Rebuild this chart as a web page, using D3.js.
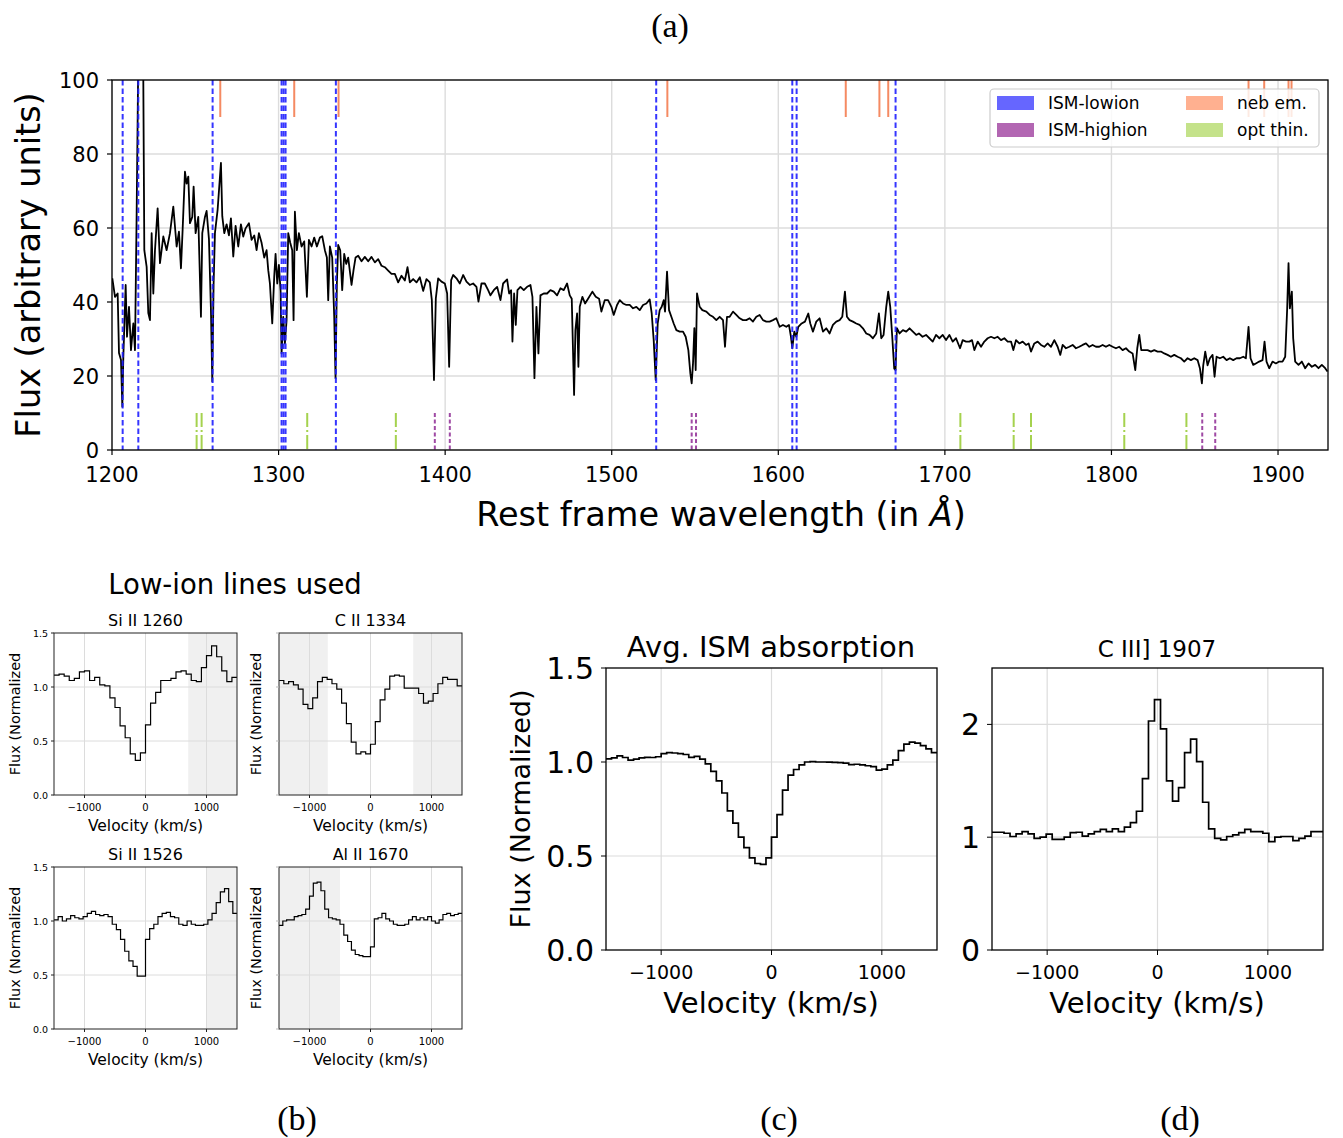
<!DOCTYPE html>
<html><head><meta charset="utf-8">
<script src="https://cdn.jsdelivr.net/npm/d3@7"></script>
<style>body{margin:0;background:#fff}svg{display:block}</style>
</head><body><script>
// ---------------- DATA ----------------
const specWave = [1200.2,1201.8,1203.4,1204.2,1205.4,1206.2,1206.8,1208.2,1209.0,1210.2,1211.4,1212.8,1213.8,1214.8,1216.0,1218.6,1219.4,1220.8,1221.8,1222.8,1223.8,1224.8,1225.8,1227.4,1228.8,1230.8,1232.8,1234.8,1236.8,1238.8,1240.2,1241.4,1242.4,1243.8,1244.8,1245.8,1246.8,1248.2,1249.0,1250.2,1251.8,1253.4,1254.2,1255.8,1256.8,1258.2,1259.4,1260.2,1261.0,1261.8,1263.4,1265.4,1266.2,1267.4,1268.8,1270.2,1271.4,1272.8,1274.2,1275.8,1277.4,1278.8,1280.2,1282.2,1283.8,1285.4,1286.8,1288.2,1289.8,1291.4,1292.8,1293.8,1294.8,1296.2,1297.4,1298.2,1299.2,1300.2,1301.2,1301.8,1302.8,1303.8,1304.8,1305.8,1307.0,1308.2,1309.0,1309.8,1311.0,1312.2,1313.8,1315.4,1317.0,1318.2,1319.8,1321.4,1323.0,1324.8,1326.2,1327.8,1329.0,1329.8,1330.8,1332.2,1333.4,1334.2,1335.0,1335.8,1337.0,1338.2,1339.4,1340.6,1341.8,1343.8,1345.0,1346.2,1347.8,1349.8,1351.8,1353.8,1355.8,1357.8,1359.8,1361.8,1363.8,1365.8,1367.8,1369.8,1371.8,1373.8,1375.8,1377.4,1378.8,1380.8,1382.8,1384.8,1386.8,1388.8,1390.8,1392.0,1393.3,1394.4,1395.8,1397.8,1399.8,1401.2,1402.4,1403.6,1404.8,1406.8,1408.8,1410.8,1412.8,1414.8,1416.8,1418.8,1420.0,1421.8,1423.8,1425.8,1427.2,1429.2,1431.2,1433.2,1434.8,1437.2,1438.4,1439.6,1440.4,1441.4,1442.4,1443.4,1445.2,1447.2,1449.2,1451.2,1452.4,1453.6,1454.8,1456.0,1457.2,1459.2,1461.2,1463.2,1465.2,1467.2,1469.2,1471.2,1473.2,1474.8,1476.0,1476.8,1477.4,1478.2,1479.2,1480.0,1480.8,1482.4,1484.0,1485.8,1488.4,1490.4,1492.4,1493.8,1495.8,1497.8,1499.8,1501.2,1503.2,1504.8,1506.8,1508.8,1510.8,1512.8,1514.8,1516.8,1518.8,1520.8,1522.8,1524.0,1525.2,1526.4,1527.6,1528.8,1530.0,1531.2,1532.0,1533.2,1534.4,1535.8,1537.2,1538.8,1540.8,1542.8,1544.4,1546.0,1547.2,1548.0,1548.8,1549.6,1550.4,1551.2,1552.8,1554.4,1556.8,1558.8,1560.8,1562.8,1564.8,1566.8,1568.0,1569.2,1570.8,1572.8,1574.8,1576.8,1578.8,1580.8,1582.8,1584.8,1586.8,1588.8,1590.8,1592.8,1594.8,1596.8,1598.8,1600.8,1602.8,1604.8,1606.4,1607.6,1608.4,1609.6,1610.8,1612.0,1614.0,1616.0,1618.0,1619.2,1620.8,1622.8,1624.8,1626.8,1628.8,1630.8,1632.8,1634.8,1636.8,1638.4,1640.0,1641.2,1642.8,1644.8,1646.8,1648.8,1650.8,1652.8,1654.8,1656.8,1658.8,1660.4,1661.8,1663.2,1664.8,1666.0,1667.2,1668.4,1669.6,1670.4,1671.2,1672.8,1674.8,1676.8,1678.8,1680.8,1682.8,1684.4,1686.6,1688.7,1690.7,1692.7,1694.7,1696.7,1698.7,1700.7,1702.7,1704.7,1706.7,1709.1,1710.7,1712.7,1714.7,1716.3,1717.7,1719.7,1721.7,1723.7,1725.7,1727.7,1729.7,1731.7,1733.7,1735.7,1737.7,1739.7,1741.1,1742.7,1744.7,1746.7,1748.7,1750.3,1751.7,1753.7,1755.7,1757.7,1759.7,1761.7,1763.7,1765.7,1767.7,1769.3,1770.7,1772.7,1774.7,1776.7,1778.7,1780.7,1782.7,1784.7,1786.7,1788.7,1790.7,1792.7,1794.7,1796.7,1798.7,1800.7,1802.7,1804.7,1806.7,1808.7,1810.7,1812.7,1814.3,1815.5,1816.7,1817.9,1819.7,1821.7,1823.7,1825.7,1827.7,1829.7,1831.7,1833.7,1835.7,1837.7,1839.7,1841.7,1843.7,1845.7,1847.7,1849.7,1851.7,1853.1,1854.3,1855.1,1856.3,1857.7,1859.1,1860.7,1861.9,1863.1,1865.1,1867.1,1869.1,1871.1,1873.1,1875.1,1877.1,1879.1,1880.7,1882.3,1883.5,1885.1,1886.7,1888.7,1890.7,1891.9,1893.1,1894.7,1896.7,1898.7,1900.7,1902.7,1904.3,1905.5,1906.3,1907.1,1908.3,1909.1,1910.3,1912.3,1914.3,1916.3,1918.3,1920.3,1922.3,1924.3,1926.3,1928.3,1929.7];
const specFlux = [46.4,41.4,42.3,26.2,24.3,11.7,25.2,44.6,30.6,38.7,27.0,34.2,27.0,64.0,115,115,54.0,49.5,37.0,35.1,58.6,42.3,54.0,65.3,50.5,57.7,54.0,58.6,65.8,55.0,59.0,49.1,59.5,75.2,72.0,73.9,61.3,63.0,71.2,58.6,63.0,36.0,58.6,63.0,64.6,57.0,37.8,18.5,45.0,58.6,64.9,77.6,63.2,58.6,61.0,58.0,62.6,52.3,60.6,55.0,61.0,57.7,59.9,61.3,56.8,58.0,54.0,58.6,56.0,52.0,54.0,48.6,45.0,34.2,47.0,53.0,45.0,50.0,43.0,26.1,36.0,28.8,35.0,58.6,56.0,54.0,35.1,64.4,54.0,58.6,55.0,56.4,41.4,56.8,55.0,57.4,55.0,57.4,57.8,54.0,52.0,40.5,55.0,52.0,36.0,19.4,45.0,55.4,54.0,43.2,53.0,50.3,52.0,44.6,48.6,52.0,52.5,51.0,52.2,51.0,52.2,50.7,51.6,49.8,49.4,48.5,47.6,47.6,45.3,47.1,45.8,49.4,45.3,46.2,45.3,46.7,43.0,46.2,45.3,40.5,18.9,41.0,46.4,45.5,45.0,42.3,22.5,45.9,47.3,46.4,45.0,47.3,45.5,44.6,45.0,44.1,40.1,45.0,45.0,43.2,41.8,43.2,44.1,40.5,45.0,46.1,42.3,43.2,29.3,42.3,33.8,43.2,44.1,43.2,44.1,44.6,41.4,19.4,38.7,26.1,41.8,42.3,42.3,43.2,42.8,41.8,43.7,43.2,45.0,41.8,40.9,26.1,14.9,32.4,36.9,22.5,38.7,41.4,39.6,40.9,42.8,41.4,40.9,37.4,40.5,40.5,38.7,36.5,39.2,40.5,39.6,39.2,39.2,38.3,38.7,37.8,39.2,39.6,40.7,36.9,29.7,18.9,34.2,37.8,38.7,40.5,37.4,48.2,37.8,36.0,34.2,32.4,32.0,32.0,30.6,27.0,20.7,18.0,23.4,32.9,21.6,42.3,38.7,37.8,37.4,36.5,36.0,35.1,36.0,35.1,27.9,36.0,36.0,37.4,36.5,35.6,35.1,35.1,35.6,34.7,36.0,36.5,35.1,34.7,34.7,35.1,35.6,33.3,33.8,33.3,33.8,30.6,27.5,32.0,30.6,33.3,34.2,34.7,36.9,34.2,32.0,34.7,35.6,32.0,32.9,31.5,33.8,34.7,35.1,36.0,42.8,36.0,35.1,34.7,34.2,33.8,32.9,31.5,31.1,30.2,31.5,36.9,30.2,31.1,38.7,42.8,38.7,30.6,22.0,21.6,32.9,31.5,32.4,32.0,32.9,32.0,31.1,31.5,30.6,31.1,30.2,29.3,31.1,30.2,31.1,29.7,31.1,29.3,30.2,27.5,29.7,29.3,29.3,29.7,27.0,29.3,27.9,29.3,30.2,30.6,30.2,30.6,29.7,30.2,29.3,29.3,27.0,29.7,28.8,29.3,28.4,28.8,26.6,28.8,29.3,28.4,27.9,28.8,27.9,29.7,27.9,25.7,28.4,27.5,27.9,28.4,27.5,27.9,28.4,28.8,27.9,28.4,27.9,27.9,28.4,27.9,28.4,27.9,27.5,27.9,27.0,27.5,26.6,26.1,21.6,27.5,31.1,27.0,27.0,27.0,26.6,27.0,26.6,26.6,26.1,25.7,25.2,25.7,25.2,24.8,23.9,24.8,24.3,24.8,24.3,22.1,18.0,22.9,26.6,22.9,24.8,25.7,19.8,25.2,24.8,25.2,24.3,24.8,24.3,24.8,24.8,25.2,24.8,33.3,24.8,23.0,23.4,23.9,24.3,29.3,23.9,22.1,23.9,23.4,23.9,23.9,25.2,38.3,50.5,38.3,42.8,30.2,23.9,23.0,23.9,22.1,23.4,22.5,23.0,22.1,23.0,22.1,21.2];
const xTicksMain = [1200,1300,1400,1500,1600,1700,1800,1900];
const yTicksMain = [0,20,40,60,80,100];
// line markers (rest wavelengths, Å)
const ismLowion = [1206.4,1215.8,1260.4,1301.8,1303.0,1304.2,1334.4,1526.7,1608.4,1611.0,1670.4];
const nebEm = [1265.0,1309.4,1336.0,1533.4,1640.5,1660.7,1666.0,1882.3,1891.7,1906.3,1908.1];
const ismHighion = [1393.8,1402.8,1548.0,1550.6,1854.5,1862.3];
const optThin = [1250.8,1253.8,1317.2,1370.4,1709.3,1741.3,1751.7,1807.7,1845.0];
const legendLabels = ["ISM-lowion","ISM-highion","neb em.","opt thin."];
// panel (b): binned normalized flux, velocity range -1500..1500 km/s
const siII1260 = [1.11,1.12,1.10,1.06,1.08,1.14,1.15,1.06,1.09,1.02,1.01,0.90,0.81,0.64,0.53,0.38,0.32,0.39,0.65,0.85,0.95,1.06,1.06,1.08,1.14,1.15,1.12,1.06,1.05,1.18,1.29,1.38,1.28,1.15,1.05,1.09];
const cII1334 = [1.06,1.03,1.05,1.02,0.98,0.84,0.80,0.90,1.05,1.09,1.07,1.03,0.98,0.85,0.66,0.49,0.38,0.40,0.38,0.47,0.68,0.88,0.98,1.10,1.11,1.10,0.99,0.99,0.99,0.94,0.85,0.87,0.94,1.03,1.09,1.07,1.07,1.01];
const siII1526 = [1.01,1.04,1.00,1.02,1.05,1.03,1.02,1.04,1.07,1.09,1.06,1.05,1.06,1.04,0.97,0.92,0.83,0.72,0.63,0.58,0.49,0.49,0.83,0.93,0.97,1.04,1.07,1.08,1.04,1.03,0.97,0.96,1.00,0.97,0.96,0.96,0.97,1.01,1.07,1.17,1.27,1.30,1.18,1.07];
const alII1670 = [0.96,1.00,1.01,1.01,1.04,1.05,1.06,1.11,1.23,1.35,1.36,1.28,1.11,1.03,1.02,1.01,0.97,0.87,0.81,0.73,0.69,0.68,0.67,0.67,0.76,1.02,1.03,1.07,1.02,1.00,0.97,0.96,0.96,0.97,1.01,1.04,1.01,1.03,1.01,1.04,1.00,0.98,1.01,1.06,1.07,1.05,1.06,1.07];
const shade1260 = [[700,1500]];
const shade1334 = [[-1500,-700],[700,1500]];
const shade1526 = [[1000,1500]];
const shade1670 = [[-1500,-500]];
const lowIonTitles = ["Si II 1260","C II 1334","Si II 1526","Al II 1670"];
// panel (c): average ISM absorption, 50 km/s bins
const avgISM = [1.017,1.022,1.033,1.024,1.010,1.015,1.022,1.025,1.024,1.028,1.045,1.050,1.048,1.045,1.040,1.025,1.030,1.015,0.990,0.950,0.900,0.835,0.740,0.675,0.600,0.545,0.490,0.460,0.455,0.490,0.600,0.720,0.850,0.930,0.960,0.985,1.000,1.002,1.000,1.000,0.999,0.998,0.997,0.994,0.986,0.988,0.985,0.980,0.975,0.957,0.962,0.985,1.010,1.060,1.095,1.106,1.100,1.087,1.070,1.050];
// panel (d): C III] 1907 profile
const ciii1907 = [1.044,1.044,1.035,1.006,1.030,1.050,1.030,0.990,1.000,1.027,0.980,0.980,1.000,1.040,1.044,1.010,1.030,1.050,1.070,1.050,1.074,1.050,1.090,1.130,1.230,1.520,2.030,2.220,1.960,1.500,1.320,1.440,1.750,1.870,1.670,1.310,1.074,0.990,0.976,1.006,1.020,1.040,1.070,1.050,1.050,1.035,0.960,1.000,1.006,1.006,0.970,0.990,1.010,1.050,1.050];
const velTicks = [-1000,0,1000];

// ---------------- DRAW ----------------
const FONT = "DejaVu Sans, sans-serif";
const SERIF = "Liberation Serif, DejaVu Serif, serif";
const GRID = "#dcdcdc";
const svg = d3.select("body").append("svg").attr("width",1343).attr("height",1138)
  .style("font-family",FONT);
svg.append("rect").attr("width",1343).attr("height",1138).attr("fill","#fff");
const fmtMinus = s => String(s).replace("-","\u2212");

// ---- panel (a) ----
const xA = d3.scaleLinear().domain([1200,1930]).range([112,1328]);
const yA = d3.scaleLinear().domain([0,100]).range([450,80]);
const gA = svg.append("g");
svg.append("defs").append("clipPath").attr("id","clipA").append("rect")
  .attr("x",112).attr("y",80).attr("width",1216).attr("height",370);
gA.selectAll(".gx").data(xTicksMain).join("line").attr("x1",d=>xA(d)).attr("x2",d=>xA(d))
  .attr("y1",80).attr("y2",450).attr("stroke",GRID).attr("stroke-width",1.4);
gA.selectAll(".gy").data(yTicksMain).join("line").attr("x1",112).attr("x2",1328)
  .attr("y1",d=>yA(d)).attr("y2",d=>yA(d)).attr("stroke",GRID).attr("stroke-width",1.4);
const spec = specWave.map((w,i)=>[w,specFlux[i]]);
gA.append("path").datum(spec).attr("clip-path","url(#clipA)")
  .attr("d",d3.line().x(d=>xA(d[0])).y(d=>yA(d[1])))
  .attr("fill","none").attr("stroke","#000").attr("stroke-width",1.8).attr("stroke-linejoin","round");
const gL = gA.append("g").attr("clip-path","url(#clipA)");
gL.selectAll(".low").data(ismLowion).join("line").attr("x1",d=>xA(d)).attr("x2",d=>xA(d))
  .attr("y1",yA(100)).attr("y2",yA(0)).attr("stroke","#1f1fff").attr("stroke-opacity",0.9)
  .attr("stroke-width",2).attr("stroke-dasharray","5.5,3");
gL.selectAll(".neb").data(nebEm).join("line").attr("x1",d=>xA(d)).attr("x2",d=>xA(d))
  .attr("y1",yA(100)).attr("y2",yA(90)).attr("stroke","#f58a62").attr("stroke-width",2);
gL.selectAll(".hi").data(ismHighion).join("line").attr("x1",d=>xA(d)).attr("x2",d=>xA(d))
  .attr("y1",yA(10)).attr("y2",yA(0)).attr("stroke","#8e2a94").attr("stroke-opacity",0.85)
  .attr("stroke-width",2).attr("stroke-dasharray","4,2.5");
gL.selectAll(".thin").data(optThin).join("line").attr("x1",d=>xA(d)).attr("x2",d=>xA(d))
  .attr("y1",yA(10)).attr("y2",yA(0)).attr("stroke","#a5d24e").attr("stroke-width",2)
  .attr("stroke-dasharray","14,3,2,3");
gA.append("rect").attr("x",112).attr("y",80).attr("width",1216).attr("height",370)
  .attr("fill","none").attr("stroke","#000").attr("stroke-width",1.3);
gA.selectAll(".tx").data(xTicksMain).join("line").attr("x1",d=>xA(d)).attr("x2",d=>xA(d))
  .attr("y1",450).attr("y2",455).attr("stroke","#000").attr("stroke-width",1.2);
gA.selectAll(".tl").data(xTicksMain).join("text").attr("x",d=>xA(d)).attr("y",482)
  .attr("text-anchor","middle").attr("font-size",21).text(d=>d);
gA.selectAll(".ty").data(yTicksMain).join("line").attr("x1",107).attr("x2",112)
  .attr("y1",d=>yA(d)).attr("y2",d=>yA(d)).attr("stroke","#000").attr("stroke-width",1.2);
gA.selectAll(".tyl").data(yTicksMain).join("text").attr("x",99).attr("y",d=>yA(d)+7.5)
  .attr("text-anchor","end").attr("font-size",21).text(d=>d);
gA.append("text").attr("transform","translate(40,265) rotate(-90)").attr("text-anchor","middle")
  .attr("font-size",33.5).text("Flux (arbitrary units)");
const xl = gA.append("text").attr("x",721).attr("y",526).attr("text-anchor","middle").attr("font-size",33.5);
xl.append("tspan").text("Rest frame wavelength (in ");
xl.append("tspan").attr("font-style","italic").text("Å");
xl.append("tspan").text(")");
// legend
const leg = gA.append("g");
leg.append("rect").attr("x",990).attr("y",89).attr("width",329).attr("height",58).attr("rx",4)
  .attr("fill","#fff").attr("fill-opacity",0.82).attr("stroke","#cccccc").attr("stroke-width",1.2);
const legColors = ["#6666ff","#b266b2","#ffb090","#c4e28a"];
const legPos = [[997,96],[997,123],[1186,96],[1186,123]];
legendLabels.forEach((t,i)=>{
  leg.append("rect").attr("x",legPos[i][0]).attr("y",legPos[i][1]).attr("width",37).attr("height",14)
    .attr("fill",legColors[i]);
  leg.append("text").attr("x",legPos[i][0]+51).attr("y",legPos[i][1]+13).attr("font-size",17).text(t);
});
svg.append("text").attr("x",670).attr("y",37).attr("text-anchor","middle")
  .attr("font-family",SERIF).attr("font-size",34).text("(a)");

// ---- panel (b) ----
function stepPts(vals){
  const w = 3000/vals.length;
  const pts=[];
  vals.forEach((v,i)=>{pts.push([-1500+i*w,v]);pts.push([-1500+(i+1)*w,v]);});
  return pts;
}
svg.append("text").attr("x",235).attr("y",594).attr("text-anchor","middle").attr("font-size",27.5)
  .text("Low-ion lines used");
const smallPanels = [
  {vals:siII1260, shade:shade1260, x0:54, y0:633, labels:true},
  {vals:cII1334, shade:shade1334, x0:279, y0:633, labels:false},
  {vals:siII1526, shade:shade1526, x0:54, y0:867, labels:true},
  {vals:alII1670, shade:shade1670, x0:279, y0:867, labels:false}
];
smallPanels.forEach((p,k)=>{
  const w=183, h=162;
  const x = d3.scaleLinear().domain([-1500,1500]).range([p.x0,p.x0+w]);
  const y = d3.scaleLinear().domain([0,1.5]).range([p.y0+h,p.y0]);
  const g = svg.append("g");
  g.selectAll(".sh").data(p.shade).join("rect").attr("x",d=>x(d[0])).attr("width",d=>x(d[1])-x(d[0]))
    .attr("y",p.y0).attr("height",h).attr("fill","#f0f0f0");
  g.selectAll(".gx").data(velTicks).join("line").attr("x1",d=>x(d)).attr("x2",d=>x(d))
    .attr("y1",p.y0).attr("y2",p.y0+h).attr("stroke",GRID).attr("stroke-width",1);
  g.selectAll(".gy").data([0.5,1.0]).join("line").attr("x1",p.x0).attr("x2",p.x0+w)
    .attr("y1",d=>y(d)).attr("y2",d=>y(d)).attr("stroke",GRID).attr("stroke-width",1);
  g.append("path").datum(stepPts(p.vals)).attr("d",d3.line().x(d=>x(d[0])).y(d=>y(d[1])))
    .attr("fill","none").attr("stroke","#000").attr("stroke-width",1.2);
  g.append("rect").attr("x",p.x0).attr("y",p.y0).attr("width",w).attr("height",h)
    .attr("fill","none").attr("stroke","#222").attr("stroke-width",1);
  g.selectAll(".tx").data(velTicks).join("line").attr("x1",d=>x(d)).attr("x2",d=>x(d))
    .attr("y1",p.y0+h).attr("y2",p.y0+h+3).attr("stroke","#222");
  g.selectAll(".txl").data(velTicks).join("text").attr("x",d=>x(d)).attr("y",p.y0+h+16)
    .attr("text-anchor","middle").attr("font-size",10).text(d=>fmtMinus(d));
  g.selectAll(".ty").data([0,0.5,1.0,1.5]).join("line").attr("x1",p.x0-3).attr("x2",p.x0)
    .attr("y1",d=>y(d)).attr("y2",d=>y(d)).attr("stroke",p.labels?"#222":"#bbb");
  if(p.labels){
    g.selectAll(".tyl").data([0,0.5,1.0,1.5]).join("text").attr("x",p.x0-6).attr("y",d=>y(d)+3.5)
      .attr("text-anchor","end").attr("font-size",9.5).text(d=>d.toFixed(1));
  }
  g.append("text").attr("x",p.x0+w/2).attr("y",p.y0-7).attr("text-anchor","middle")
    .attr("font-size",16).text(lowIonTitles[k]);
  g.append("text").attr("x",p.x0+w/2).attr("y",p.y0+h+36).attr("text-anchor","middle")
    .attr("font-size",15.5).text("Velocity (km/s)");
  const lx = p.labels ? p.x0-34 : p.x0-18;
  g.append("text").attr("transform",`translate(${lx},${p.y0+h/2}) rotate(-90)`)
    .attr("text-anchor","middle").attr("font-size",14.5).text("Flux (Normalized");
});
svg.append("text").attr("x",297).attr("y",1130).attr("text-anchor","middle")
  .attr("font-family",SERIF).attr("font-size",34).text("(b)");

// ---- panel (c) ----
(function(){
  const x = d3.scaleLinear().domain([-1500,1500]).range([606,937]);
  const y = d3.scaleLinear().domain([0,1.5]).range([950,668]);
  const g = svg.append("g");
  g.selectAll(".gx").data(velTicks).join("line").attr("x1",d=>x(d)).attr("x2",d=>x(d))
    .attr("y1",668).attr("y2",950).attr("stroke",GRID).attr("stroke-width",1.2);
  g.selectAll(".gy").data([0.5,1.0]).join("line").attr("x1",606).attr("x2",937)
    .attr("y1",d=>y(d)).attr("y2",d=>y(d)).attr("stroke",GRID).attr("stroke-width",1.2);
  g.append("path").datum(stepPts(avgISM)).attr("d",d3.line().x(d=>x(d[0])).y(d=>y(d[1])))
    .attr("fill","none").attr("stroke","#000").attr("stroke-width",1.7);
  g.append("rect").attr("x",606).attr("y",668).attr("width",331).attr("height",282)
    .attr("fill","none").attr("stroke","#000").attr("stroke-width",1.3);
  g.selectAll(".tx").data(velTicks).join("line").attr("x1",d=>x(d)).attr("x2",d=>x(d))
    .attr("y1",950).attr("y2",955).attr("stroke","#000");
  g.selectAll(".txl").data(velTicks).join("text").attr("x",d=>x(d)).attr("y",979)
    .attr("text-anchor","middle").attr("font-size",19).text(d=>fmtMinus(d));
  g.selectAll(".ty").data([0,0.5,1.0,1.5]).join("line").attr("x1",601).attr("x2",606)
    .attr("y1",d=>y(d)).attr("y2",d=>y(d)).attr("stroke","#000");
  g.selectAll(".tyl").data([0,0.5,1.0,1.5]).join("text").attr("x",594).attr("y",d=>y(d)+11)
    .attr("text-anchor","end").attr("font-size",30).text(d=>d.toFixed(1));
  g.append("text").attr("x",771).attr("y",657).attr("text-anchor","middle").attr("font-size",29)
    .text("Avg. ISM absorption");
  g.append("text").attr("x",771).attr("y",1013).attr("text-anchor","middle").attr("font-size",29)
    .text("Velocity (km/s)");
  g.append("text").attr("transform","translate(530,809) rotate(-90)").attr("text-anchor","middle")
    .attr("font-size",27).text("Flux (Normalized)");
})();
svg.append("text").attr("x",779).attr("y",1130).attr("text-anchor","middle")
  .attr("font-family",SERIF).attr("font-size",34).text("(c)");

// ---- panel (d) ----
(function(){
  const x = d3.scaleLinear().domain([-1500,1500]).range([992,1323]);
  const y = d3.scaleLinear().domain([0,2.5]).range([950,668]);
  const g = svg.append("g");
  g.selectAll(".gx").data(velTicks).join("line").attr("x1",d=>x(d)).attr("x2",d=>x(d))
    .attr("y1",668).attr("y2",950).attr("stroke",GRID).attr("stroke-width",1.2);
  g.selectAll(".gy").data([1,2]).join("line").attr("x1",992).attr("x2",1323)
    .attr("y1",d=>y(d)).attr("y2",d=>y(d)).attr("stroke",GRID).attr("stroke-width",1.2);
  g.append("path").datum(stepPts(ciii1907)).attr("d",d3.line().x(d=>x(d[0])).y(d=>y(d[1])))
    .attr("fill","none").attr("stroke","#000").attr("stroke-width",1.7);
  g.append("rect").attr("x",992).attr("y",668).attr("width",331).attr("height",282)
    .attr("fill","none").attr("stroke","#000").attr("stroke-width",1.3);
  g.selectAll(".tx").data(velTicks).join("line").attr("x1",d=>x(d)).attr("x2",d=>x(d))
    .attr("y1",950).attr("y2",955).attr("stroke","#000");
  g.selectAll(".txl").data(velTicks).join("text").attr("x",d=>x(d)).attr("y",979)
    .attr("text-anchor","middle").attr("font-size",19).text(d=>fmtMinus(d));
  g.selectAll(".ty").data([0,1,2]).join("line").attr("x1",987).attr("x2",992)
    .attr("y1",d=>y(d)).attr("y2",d=>y(d)).attr("stroke","#000");
  g.selectAll(".tyl").data([0,1,2]).join("text").attr("x",980).attr("y",d=>y(d)+11)
    .attr("text-anchor","end").attr("font-size",30).text(d=>d);
  g.append("text").attr("x",1157).attr("y",657).attr("text-anchor","middle").attr("font-size",23)
    .text("C III] 1907");
  g.append("text").attr("x",1157).attr("y",1013).attr("text-anchor","middle").attr("font-size",29)
    .text("Velocity (km/s)");
})();
svg.append("text").attr("x",1180).attr("y",1130).attr("text-anchor","middle")
  .attr("font-family",SERIF).attr("font-size",34).text("(d)");
</script></body></html>
